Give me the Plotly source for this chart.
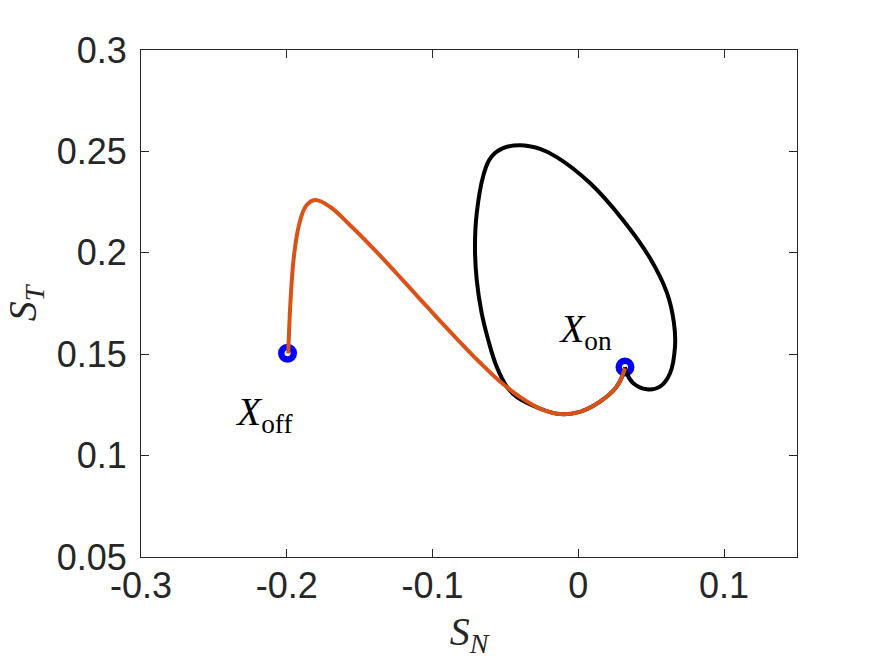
import plotly.graph_objects as go

# Orange trajectory (S_N, S_T)
orange_x = [-0.1990, -0.1974, -0.1950, -0.1916, -0.1868, -0.1806, -0.1704, -0.1567, -0.1406,
            -0.1246, -0.1086, -0.0949, -0.0812, -0.0675, -0.0537, -0.0400, -0.0263, -0.0126,
            0.0011, 0.0149, 0.0263, 0.0320]
orange_y = [0.1504, 0.1767, 0.1989, 0.2137, 0.2231, 0.2260, 0.2227, 0.2137, 0.2021,
            0.1898, 0.1772, 0.1664, 0.1560, 0.1459, 0.1365, 0.1289, 0.1232, 0.1205,
            0.1216, 0.1266, 0.1340, 0.1430]

# Black trajectory (S_N, S_T)
black_x = [0.0320, 0.0332, 0.0377, 0.0469, 0.0560, 0.0629, 0.0663, 0.0656, 0.0608, 0.0491,
           0.0306, 0.0080, -0.0148, -0.0263, -0.0400, -0.0520, -0.0600, -0.0650, -0.0697,
           -0.0709, -0.0697, -0.0663, -0.0618, -0.0560, -0.0491, -0.0423, -0.0263, -0.0126,
           0.0011, 0.0149, 0.0263, 0.0320]
black_y = [0.1437, 0.1406, 0.1357, 0.1327, 0.1340, 0.1406, 0.1536, 0.1654, 0.1802, 0.1974,
           0.2162, 0.2344, 0.2472, 0.2512, 0.2530, 0.2515, 0.2470, 0.2385, 0.2195,
           0.2030, 0.1866, 0.1702, 0.1570, 0.1438, 0.1340, 0.1289, 0.1232, 0.1205,
           0.1216, 0.1266, 0.1340, 0.1430]

# Marked states
point_x = [-0.1995, 0.0320]
point_y = [0.1505, 0.1437]
label_x = [-0.2150, 0.0053]
label_y = [0.1200, 0.1610]
label_text = ["<i>X</i><sub>off</sub>", "<i>X</i><sub>on</sub>"]

x_ticks = [-0.3, -0.2, -0.1, 0, 0.1]
x_ticklabels = ["-0.3", "-0.2", "-0.1", "0", "0.1"]
y_ticks = [0.05, 0.1, 0.15, 0.2, 0.25, 0.3]
y_ticklabels = ["0.05", "0.1", "0.15", "0.2", "0.25", "0.3"]

fig = go.Figure()
fig.add_trace(go.Scatter(x=point_x, y=point_y, mode="markers",
                         marker=dict(symbol="circle-open", size=12.5, color="#0000FF",
                                     line=dict(width=6.5, color="#0000FF")),
                         showlegend=False, hoverinfo="skip"))
fig.add_trace(go.Scatter(x=black_x, y=black_y, mode="lines",
                         line=dict(color="black", width=4, shape="spline", smoothing=1.2),
                         showlegend=False, hoverinfo="skip"))
fig.add_trace(go.Scatter(x=orange_x, y=orange_y, mode="lines",
                         line=dict(color="#D95319", width=4, shape="spline", smoothing=1.1),
                         showlegend=False, hoverinfo="skip"))
fig.add_trace(go.Scatter(x=label_x, y=label_y, mode="text", text=label_text,
                         textfont=dict(family="Liberation Serif", size=39, color="black"),
                         showlegend=False, hoverinfo="skip"))

axis_common = dict(showgrid=False, zeroline=False, showline=True, linecolor="#262626",
                   linewidth=1, mirror="ticks", ticks="inside", ticklen=8, tickwidth=1,
                   tickcolor="#262626",
                   tickfont=dict(family="Liberation Sans", size=36, color="#262626"))

fig.update_layout(
    width=882, height=667,
    margin=dict(l=141, r=85, t=50, b=110),
    paper_bgcolor="white", plot_bgcolor="white",
    xaxis=dict(range=[-0.3, 0.15], tickvals=x_ticks, ticktext=x_ticklabels,
               ticklabelstandoff=-3,
               title=dict(text="<i>S<sub>N</sub></i>", standoff=11,
                          font=dict(family="Liberation Serif", size=40, color="#262626")),
               **axis_common),
    yaxis=dict(range=[0.05, 0.3], tickvals=y_ticks, ticktext=y_ticklabels,
               ticklabelstandoff=6,
               title=dict(text="<i>S<sub>T</sub></i>", standoff=14,
                          font=dict(family="Liberation Serif", size=40, color="#262626")),
               **axis_common),
)

fig.write_html("out.html")
